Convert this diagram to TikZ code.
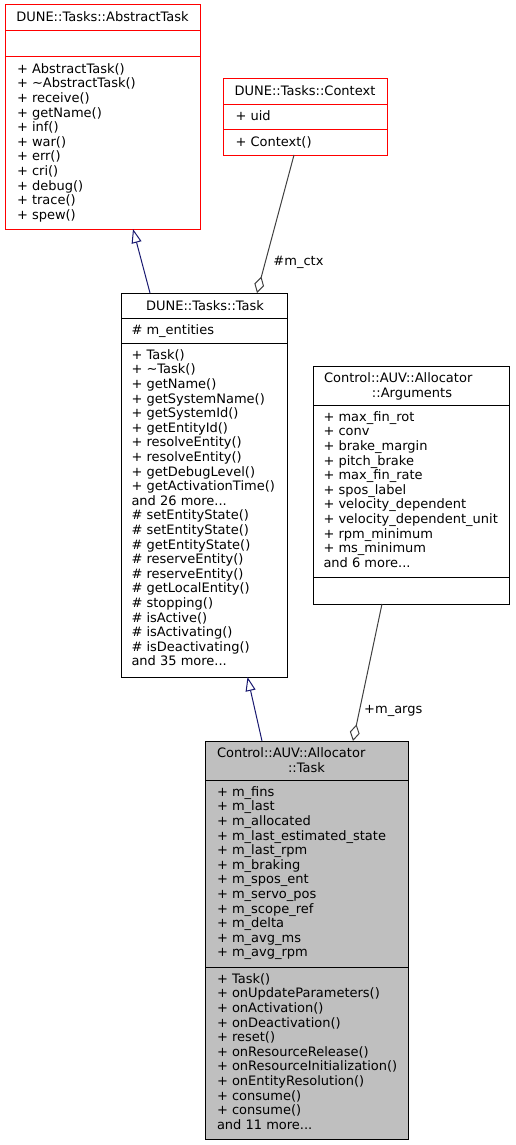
\documentclass[tikz,border=0pt]{standalone}
\usepackage{fontspec}
\setmainfont{DejaVu Sans}
\usepackage{tikz}
\usetikzlibrary{arrows.meta}

\definecolor{inhblue}{RGB}{25,25,112}
\definecolor{aggrgray}{RGB}{64,64,64}
\definecolor{mainfill}{RGB}{191,191,191}

\tikzset{
  classbox/.style={shape=rectangle,anchor=north west,inner sep=0pt,outer sep=0pt,line width=1pt},
  member/.style={anchor=north west,inner sep=0pt,outer sep=0pt,align=left},
  title/.style={anchor=base,inner sep=0pt,outer sep=0pt},
  inherit/.style={draw=inhblue,line width=1pt,-{Triangle[open,length=14pt,width=10pt]}},
  aggr/.style={draw=aggrgray,line width=1pt,-{Diamond[open,length=17pt,width=10pt]}}
}

\begin{document}
\begin{tikzpicture}[x=1pt,y=-1pt,font=\fontsize{13}{14.6}\selectfont]
      \useasboundingbox (0,0) rectangle (515,1145);

      % DUNE::Tasks::AbstractTask
      \path node (abstract) at (5,5)
            [classbox,draw=red,minimum width=195pt,minimum height=224pt] {};
      \draw[red,line width=1pt] (5,31) -- (200,31);
      \draw[red,line width=1pt] (5,57) -- (200,57);
      \path node (abstracttitle) at (102.5,22) [title]
            {DUNE::Tasks::AbstractTask};
      \path node (abstractops) at (17,63.5) [member]
            {+ AbstractTask()\\+ \textasciitilde AbstractTask()\\+ receive()\\+ getName()\\+ inf()\\+ war()\\+ err()\\+ cri()\\+ debug()\\+ trace()\\+ spew()};

      % DUNE::Tasks::Context
      \path node (context) at (223,79)
            [classbox,draw=red,minimum width=164pt,minimum height=76pt] {};
      \draw[red,line width=1pt] (223,104.5) -- (387,104.5);
      \draw[red,line width=1pt] (223,130) -- (387,130);
      \path node (contexttitle) at (305,96) [title] {DUNE::Tasks::Context};
      \path node (contextattr) at (235.5,110.8) [member] {+ uid};
      \path node (contextops) at (235.5,136.3) [member] {+ Context()};

      % DUNE::Tasks::Task
      \path node (task) at (121,293)
            [classbox,draw=black,minimum width=166pt,minimum height=384pt] {};
      \draw[line width=1pt] (121,318) -- (287,318);
      \draw[line width=1pt] (121,343) -- (287,343);
      \path node (tasktitle) at (205,310) [title] {DUNE::Tasks::Task};
      \path node (taskattr) at (131.5,324.5) [member] {\# m\_entities};
      \path node (taskops) at (131.5,349.5) [member]
            {+ Task()\\+ \textasciitilde Task()\\+ getName()\\+ getSystemName()\\+ getSystemId()\\+ getEntityId()\\+ resolveEntity()\\+ resolveEntity()\\+ getDebugLevel()\\+ getActivationTime()\\and 26 more...\\\# setEntityState()\\\# setEntityState()\\\# getEntityState()\\\# reserveEntity()\\\# reserveEntity()\\\# getLocalEntity()\\\# stopping()\\\# isActive()\\\# isActivating()\\\# isDeactivating()\\and 35 more...};

      % Control::AUV::Allocator::Arguments
      \path node (args) at (313,366)
            [classbox,draw=black,minimum width=196pt,minimum height=238pt] {};
      \draw[line width=1pt] (313,405) -- (509,405);
      \draw[line width=1pt] (313,577) -- (509,577);
      \path node (argstitle) at (324,382.5) [title,anchor=base west]
            {Control::AUV::Allocator};
      \path node (argstitlex) at (412,397.1) [title] {::Arguments};
      \path node (argsattr) at (323.5,411.5) [member]
            {+ max\_fin\_rot\\+ conv\\+ brake\_margin\\+ pitch\_brake\\+ max\_fin\_rate\\+ spos\_label\\+ velocity\_dependent\\+ velocity\_dependent\_unit\\+ rpm\_minimum\\+ ms\_minimum\\and 6 more...};

      % Control::AUV::Allocator::Task
      \path node (alloc) at (205,741)
            [classbox,draw=black,fill=mainfill,minimum width=203pt,minimum height=398pt] {};
      \draw[line width=1pt] (205,780) -- (408,780);
      \draw[line width=1pt] (205,967) -- (408,967);
      \path node (alloctitle) at (217,757.5) [title,anchor=base west]
            {Control::AUV::Allocator};
      \path node (alloctitlex) at (306.5,772.1) [title] {::Task};
      \path node (allocattr) at (217,786.5) [member]
            {+ m\_fins\\+ m\_last\\+ m\_allocated\\+ m\_last\_estimated\_state\\+ m\_last\_rpm\\+ m\_braking\\+ m\_spos\_ent\\+ m\_servo\_pos\\+ m\_scope\_ref\\+ m\_delta\\+ m\_avg\_ms\\+ m\_avg\_rpm};
      \path node (allocops) at (217,973.5) [member]
            {+ Task()\\+ onUpdateParameters()\\+ onActivation()\\+ onDeactivation()\\+ reset()\\+ onResourceRelease()\\+ onResourceInitialization()\\+ onEntityResolution()\\+ consume()\\+ consume()\\and 11 more...};

      % relations
      \draw[inherit] ([xshift=29pt]task.north west) -- ([xshift=128pt]abstract.south west);
      \draw[inherit] ([xshift=57pt]alloc.north west) -- ([xshift=126.5pt]task.south west);
      \draw[aggr] ([xshift=71pt]context.south west) -- ([xshift=136pt]task.north west)
            node[pos=0.78,right=4.5pt,text=black] (ctxlabel) {\#m\_ctx};
      \draw[aggr] ([xshift=69pt]args.south west) -- ([xshift=148pt]alloc.north west)
            node[pos=0.78,right=1pt,text=black] (argslabel) {+m\_args};
\end{tikzpicture}
\end{document}
